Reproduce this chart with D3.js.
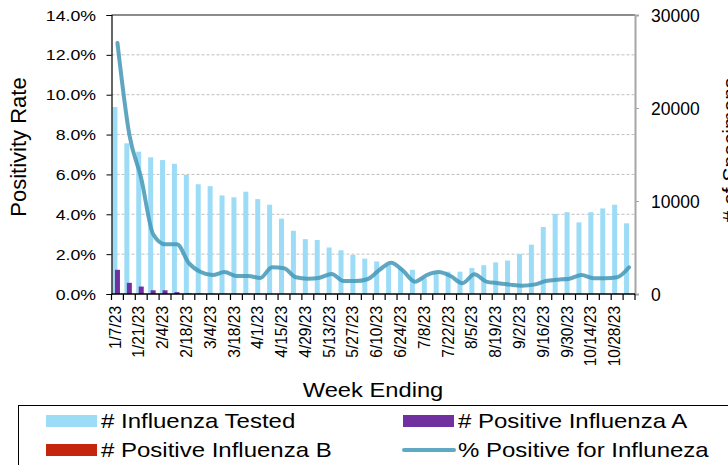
<!DOCTYPE html>
<html>
<head>
<meta charset="utf-8">
<script src="https://d3js.org/d3.v7.min.js"></script>
<style>
    body { margin: 0; background: #fff; }
    svg { display: block; }
    text { font-family: "Liberation Sans", Arial, sans-serif; fill: #000; }
</style>
</head>
<body>
<div id="chart"></div>
<script>
// week ending labels (x categories)
var weeks = ["1/7/23","1/14/23","1/21/23","1/28/23","2/4/23","2/11/23","2/18/23","2/25/23",
    "3/4/23","3/11/23","3/18/23","3/25/23","4/1/23","4/8/23","4/15/23","4/22/23","4/29/23",
    "5/6/23","5/13/23","5/20/23","5/27/23","6/3/23","6/10/23","6/17/23","6/24/23","7/1/23",
    "7/8/23","7/15/23","7/22/23","7/29/23","8/5/23","8/12/23","8/19/23","8/26/23","9/2/23",
    "9/9/23","9/16/23","9/23/23","9/30/23","10/7/23","10/14/23","10/21/23","10/28/23","11/4/23"];

// # influenza tested (right axis)
var tested = [20100,16200,15300,14700,14400,14000,12800,11800,11600,10600,10400,11000,
    10200,9600,8100,6800,5900,5800,5000,4700,4200,3800,3500,3100,2800,2600,1700,2200,
    2400,2400,2800,3100,3400,3600,4300,5300,7200,8600,8800,7700,8800,9200,9600,7600];

// # positive influenza A (right axis)
var posA = [2600,1200,800,400,400,200,60,40,30,20,20,20,10,10,10,0,0,0,0,0,0,0,0,0,
    0,0,0,0,0,0,0,0,0,0,0,0,10,10,10,10,10,10,20,20];

// # positive influenza B (right axis)
var posB = [20,10,10,10,0,0,0,0,0,0,0,0,0,0,0,0,0,0,0,0,0,0,0,0,
    0,0,0,0,0,0,0,0,0,0,0,0,0,0,0,0,0,0,0,0];

// % positive for influenza (left axis)
var pctPos = [12.6,8.0,5.8,3.0,2.5,2.5,1.55,1.1,0.95,1.1,0.9,0.9,0.8,1.34,1.29,0.84,
    0.77,0.82,1.0,0.65,0.65,0.74,1.2,1.57,1.17,0.62,0.95,1.1,0.9,0.54,0.99,0.62,0.54,
    0.47,0.42,0.47,0.65,0.72,0.77,0.95,0.79,0.79,0.84,1.34];

var leftTicks = [0,2,4,6,8,10,12,14];
var rightTicks = [0,10000,20000,30000];

var W = 728, H = 465;
var plot = {left: 111.5, right: 635, top: 15, bottom: 294};

var svg = d3.select("#chart").append("svg")
    .attr("width", W)
    .attr("height", H);

var x = d3.scaleBand()
    .domain(weeks)
    .range([plot.left, plot.right])
    .paddingInner(0).paddingOuter(0);
var yL = d3.scaleLinear().domain([0, 14]).range([plot.bottom, plot.top]);
var yR = d3.scaleLinear().domain([0, 30000]).range([plot.bottom, plot.top]);

var bw = x.bandwidth();

// horizontal text that is slightly stretched, like the original export
function hText(parent, px, py, str, size, anchor, sx) {
    return parent.append("text")
        .attr("transform", "translate(" + px + "," + py + ") scale(" + sx + ",1)")
        .attr("text-anchor", anchor)
        .style("font-size", size + "px")
        .text(str);
}

// gridlines
svg.append("g").selectAll("line")
    .data(leftTicks.filter(function(d) { return d > 0 && d < 14; }))
    .enter().append("line")
    .attr("x1", plot.left).attr("x2", plot.right)
    .attr("y1", function(d) { return yL(d); })
    .attr("y2", function(d) { return yL(d); })
    .attr("stroke", "#bfbfbf")
    .attr("stroke-width", 1)
    .attr("stroke-dasharray", "3,2");

// top border
svg.append("line")
    .attr("x1", plot.left).attr("x2", plot.right)
    .attr("y1", yL(14)).attr("y2", yL(14))
    .attr("stroke", "#8c8c8c").attr("stroke-width", 2);

// bars
var series = [
    {vals: tested, color: "#9ddcf6", off: 0.08},
    {vals: posA, color: "#7030a0", off: 0.29},
    {vals: posB, color: "#c4260c", off: 0.50}
];
series.forEach(function(s) {
    svg.append("g").selectAll("rect")
        .data(s.vals)
        .enter().append("rect")
        .attr("x", function(d, i) { return x(weeks[i]) + s.off * bw; })
        .attr("width", bw * 0.42)
        .attr("y", function(d) { return yR(d); })
        .attr("height", function(d) { return plot.bottom - yR(d); })
        .attr("fill", s.color);
});

// left axis
var gL = svg.append("g")
    .attr("transform", "translate(" + plot.left + ",0)")
    .call(d3.axisLeft(yL).tickValues(leftTicks).tickSize(5).tickFormat(""));
gL.select(".domain").attr("stroke", "#000").attr("stroke-width", 1.2);
gL.selectAll(".tick line").attr("stroke", "#000");
leftTicks.forEach(function(t) {
    hText(svg, 96, yL(t) + 5.5, t.toFixed(1) + "%", 15, "end", 1.18);
});

// right axis
var gR = svg.append("g")
    .attr("transform", "translate(" + plot.right + ",0)")
    .call(d3.axisRight(yR).tickValues(rightTicks).tickSize(4).tickFormat(""));
gR.select(".domain").attr("stroke", "#a6a6a6").attr("stroke-width", 2);
gR.selectAll(".tick line").attr("stroke", "#a6a6a6");
rightTicks.forEach(function(t) {
    hText(svg, 651, yR(t) + 6.5, String(t), 17.5, "start", 1);
});

// bottom axis
var boundaries = weeks.map(function(w) { return x(w); }).concat([plot.right]);
svg.append("g").selectAll("line")
    .data(boundaries)
    .enter().append("line")
    .attr("x1", function(d) { return d; }).attr("x2", function(d) { return d; })
    .attr("y1", plot.bottom).attr("y2", plot.bottom + 6)
    .attr("stroke", "#000").attr("stroke-width", 1.2);
svg.append("line")
    .attr("x1", plot.left).attr("x2", plot.right)
    .attr("y1", plot.bottom).attr("y2", plot.bottom)
    .attr("stroke", "#000").attr("stroke-width", 1.5);

svg.append("g").selectAll("text")
    .data(weeks.filter(function(d, i) { return i % 2 === 0; }))
    .enter().append("text")
    .attr("transform", function(d) {
        return "translate(" + (x(d) + bw / 2 - 3) + "," + (plot.bottom + 12) + ") rotate(-90) scale(1,1.12)";
    })
    .attr("dy", "0.35em")
    .attr("text-anchor", "end")
    .style("font-size", "15.5px")
    .text(function(d) { return d; });

// % positive line
var line = d3.line()
    .x(function(d, i) { return x(weeks[i]) + bw / 2; })
    .y(function(d) { return yL(d); })
    .curve(d3.curveMonotoneX);
svg.append("path")
    .datum(pctPos)
    .attr("d", line)
    .attr("fill", "none")
    .attr("stroke", "#4496b6")
    .attr("stroke-opacity", 0.85)
    .attr("stroke-width", 4)
    .attr("stroke-linejoin", "round")
    .attr("stroke-linecap", "round");

// axis titles
svg.append("text")
    .attr("transform", "translate(26,147) rotate(-90)")
    .attr("text-anchor", "middle")
    .style("font-size", "22px")
    .text("Positivity Rate");
svg.append("text")
    .attr("transform", "translate(737,150) rotate(-90)")
    .attr("text-anchor", "middle")
    .style("font-size", "21px")
    .text("# of Specimens");
hText(svg, 373, 397, "Week Ending", 21, "middle", 1.13);

// legend
var lg = svg.append("g");
lg.append("rect")
    .attr("x", 18.5).attr("y", 405.5)
    .attr("width", 730).attr("height", 80)
    .attr("fill", "#fff").attr("stroke", "#000").attr("stroke-width", 1);

var legendItems = [
    {label: "# Influenza Tested", color: "#9ddcf6", type: "bar", lx: 46, ly: 421},
    {label: "# Positive Influenza A", color: "#7030a0", type: "bar", lx: 403, ly: 421},
    {label: "# Positive Influenza B", color: "#c4260c", type: "bar", lx: 46, ly: 450},
    {label: "% Positive for Influneza", color: "#5fa9c4", type: "line", lx: 403, ly: 450}
];
legendItems.forEach(function(d) {
    if (d.type === "bar") {
        lg.append("rect")
            .attr("x", d.lx).attr("y", d.ly - 6)
            .attr("width", 51).attr("height", 12)
            .attr("fill", d.color);
    } else {
        lg.append("line")
            .attr("x1", d.lx + 1).attr("x2", d.lx + 51)
            .attr("y1", d.ly).attr("y2", d.ly)
            .attr("stroke", d.color).attr("stroke-width", 4)
            .attr("stroke-linecap", "round");
    }
    hText(lg, d.lx + 55, d.ly + 7, d.label, 20, "start", 1.2);
});
</script>
</body>
</html>
